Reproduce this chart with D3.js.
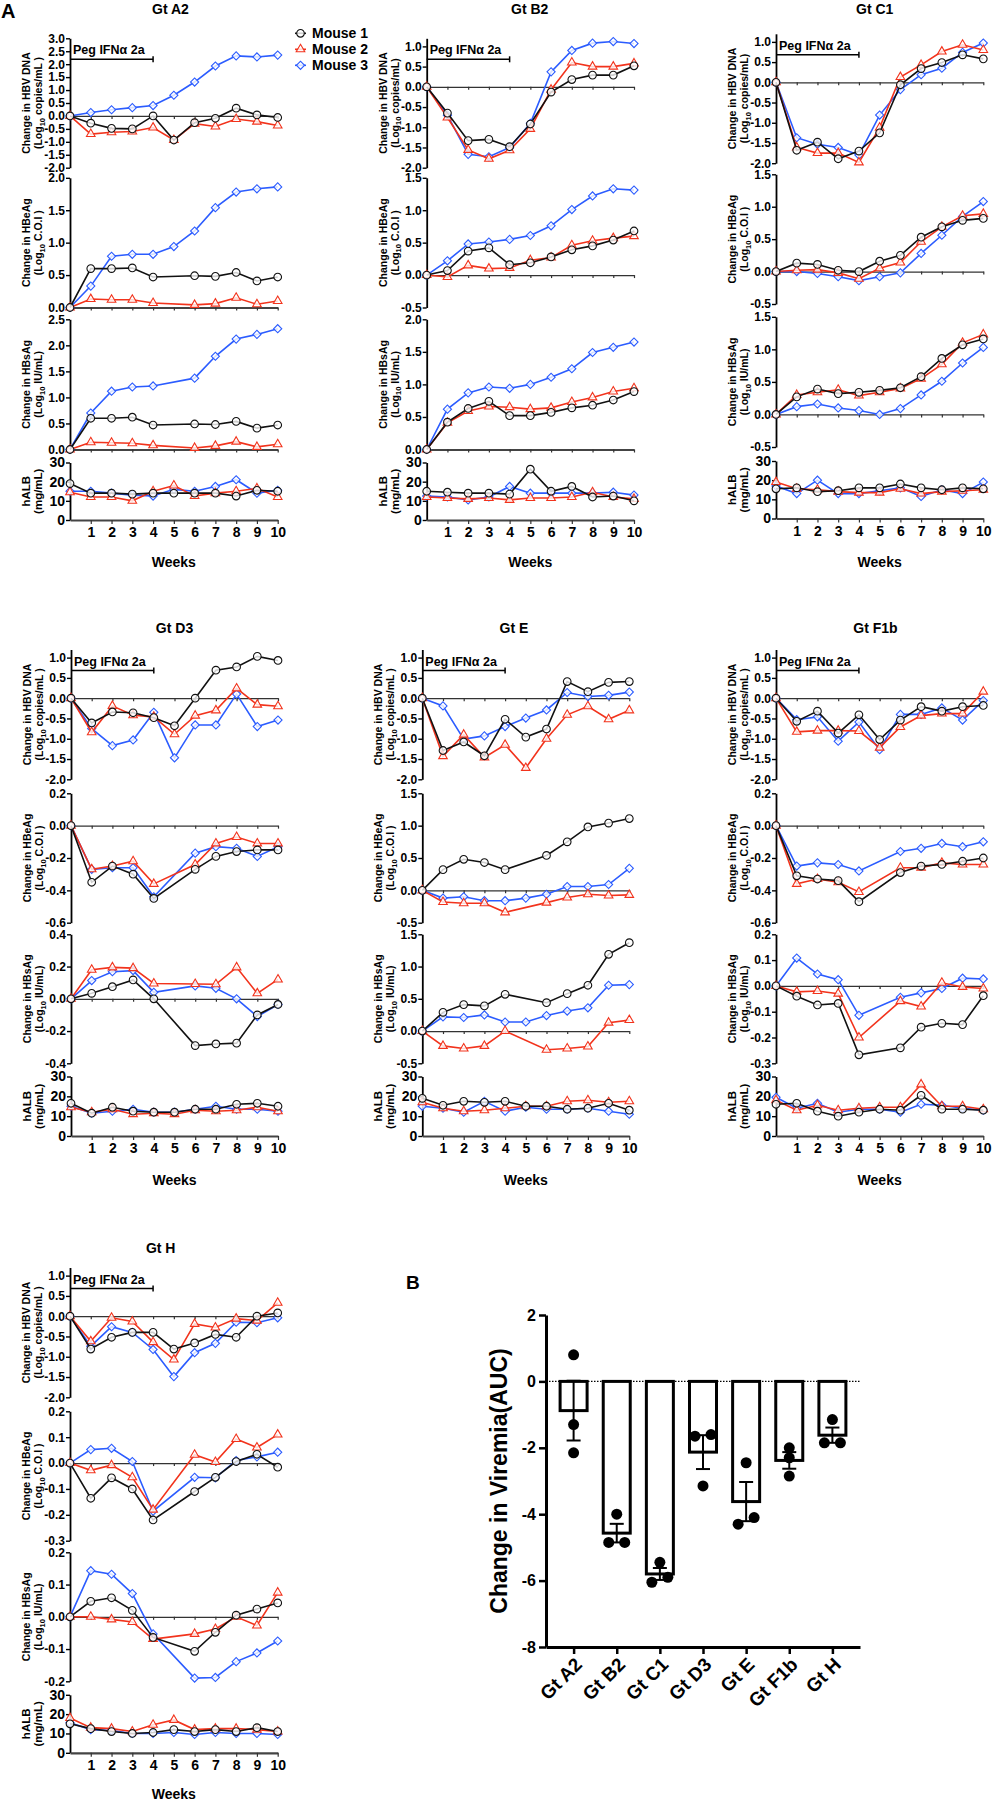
<!DOCTYPE html>
<html><head><meta charset="utf-8">
<script src="https://cdn.jsdelivr.net/npm/d3@7"></script>
<style>
body{margin:0;background:#fff;}
svg text{font-family:"Liberation Sans",Arial,Helvetica,sans-serif;font-weight:bold;fill:#000;}
</style></head><body>
<svg id="c" width="993" height="1800"></svg>
<script>
// ---------------- DATA ----------------
const weeks = [0,1,2,3,4,5,6,7,8,9,10];
const mice = ["Mouse 1","Mouse 2","Mouse 3"];
const weekLabels = [1,2,3,4,5,6,7,8,9,10];

// each array: [Mouse 1, Mouse 2, Mouse 3]; null = not measured
const A2_DNA = [[0,-0.28,-0.48,-0.5,0.0,-0.93,-0.26,-0.09,0.3,0.04,-0.06],
                [0,-0.7,-0.63,-0.6,-0.45,-0.93,-0.3,-0.41,-0.12,-0.22,-0.37],
                [0,0.13,0.24,0.32,0.4,0.8,1.31,1.93,2.32,2.28,2.35]];
const A2_HBE = [[0,0.6,0.6,0.61,0.47,null,0.49,0.48,0.54,0.41,0.47],
                [0,0.13,0.12,0.12,0.07,null,0.04,0.06,0.15,0.05,0.1],
                [0,0.33,0.79,0.82,0.82,0.94,1.18,1.54,1.78,1.83,1.86]];
const A2_HBS = [[0,0.6,0.6,0.62,0.47,null,0.49,0.48,0.54,0.41,0.47],
                [0,0.14,0.13,0.12,0.08,null,0.03,0.07,0.15,0.05,0.1],
                [0,0.7,1.12,1.2,1.22,null,1.37,1.79,2.12,2.21,2.32]];
const A2_ALB = [[19,14,14,13.5,14,14,14,14,12.5,15.5,15],
                [14.5,12,12,10,15,18,12.5,14,15,16.5,12],
                [15,15,14,13,12.5,16,15,17.5,21,14,15.5]];

const B2_DNA = [[0,-0.65,-1.33,-1.3,-1.48,-0.92,-0.13,0.18,0.29,0.29,0.52],
                [0,-0.76,-1.56,-1.78,-1.57,-1.04,-0.07,0.6,0.5,0.5,0.58],
                [0,-0.7,-1.67,-1.73,-1.5,-0.9,0.37,0.9,1.08,1.12,1.07]];
const B2_HBE = [[0,0.07,0.37,0.42,0.16,0.19,0.28,0.39,0.45,0.54,0.68],
                [0,-0.03,0.15,0.1,0.11,0.23,0.27,0.46,0.53,0.57,0.6],
                [0,0.22,0.48,0.51,0.55,0.61,0.76,1.01,1.22,1.33,1.31]];
const B2_HBS = [[0,0.42,0.63,0.74,0.52,0.52,0.57,0.64,0.68,0.76,0.89],
                [0,0.41,0.59,0.66,0.65,0.62,0.64,0.73,0.8,0.89,0.94],
                [0,0.62,0.87,0.96,0.94,1.0,1.11,1.24,1.49,1.57,1.65]];
const B2_ALB = [[15,14.5,14,14,13.5,26.5,15,17.5,12,12.5,10],
                [12,11.5,11,11.5,10.5,11.5,11.5,12,14.5,12,11],
                [12.5,12,10.5,12,17.5,14,14,14,14,14.5,13]];

const C1_DNA = [[0,-1.68,-1.48,-1.89,-1.7,-1.25,-0.06,0.34,0.49,0.68,0.58],
                [0,-1.61,-1.75,-1.75,-1.98,-1.12,0.13,0.43,0.76,0.93,0.8],
                [0,-1.37,-1.53,-1.61,-1.8,-0.81,-0.18,0.19,0.35,0.74,0.97]];
const C1_HBE = [[0,0.13,0.11,0.02,0.0,0.16,0.25,0.53,0.69,0.79,0.82],
                [0,0.02,0.03,-0.02,-0.11,0.05,0.14,0.46,0.69,0.86,0.89],
                [0,0,-0.03,-0.08,-0.14,-0.08,-0.02,0.28,0.56,0.85,1.08]];
const C1_HBS = [[0,0.27,0.39,0.32,0.34,0.37,0.41,0.58,0.86,1.07,1.16],
                [0,0.3,0.34,0.38,0.29,0.34,0.4,0.55,0.77,1.1,1.23],
                [0,0.12,0.16,0.1,0.06,0.0,0.09,0.3,0.51,0.79,1.03]];
const C1_ALB = [[15.5,16,14,14.5,16,16,18,16,15,16,15.5],
                [19,15.5,15,14,13.5,13.5,15.5,13,14,14.5,15],
                [17,13,20,13,13,14.5,16,11.5,15,13,19]];

const D3_DNA = [[0,-0.61,-0.34,-0.36,-0.48,-0.68,0.0,0.69,0.77,1.03,0.93],
                [0,-0.84,-0.19,-0.42,-0.46,-0.89,-0.43,-0.3,0.24,-0.16,-0.2],
                [0,-0.75,-1.17,-1.03,-0.35,-1.47,-0.66,-0.66,0.1,-0.7,-0.54]];
const D3_HBE = [[0,-0.35,-0.25,-0.3,-0.45,null,-0.27,-0.19,-0.16,-0.15,-0.15],
                [0,-0.27,-0.25,-0.22,-0.36,null,-0.24,-0.11,-0.07,-0.11,-0.11],
                [0,-0.27,-0.26,-0.26,-0.44,null,-0.17,-0.13,-0.14,-0.19,-0.13]];
const D3_HBS = [[0,0.034,0.075,0.117,0.0,null,-0.29,-0.28,-0.275,-0.1,-0.035],
                [0,0.18,0.195,0.19,0.095,null,0.092,0.09,0.195,0.034,0.12],
                [0,0.113,0.168,0.175,0.04,null,0.08,0.065,0.0,-0.11,-0.035]];
const D3_ALB = [[16.5,11.5,14.5,12.5,12,12,13.5,13.5,16,16.5,15],
                [14.5,12,13.5,11,11.5,11,13,12.5,13,14.5,12.5],
                [15,11.5,12.5,13.5,12,12,13.5,15,13.5,13.5,12.5]];

const E_DNA = [[0,-1.29,-1.08,-1.42,-0.52,-0.96,-0.76,0.41,0.16,0.39,0.41],
               [0,-1.43,-0.9,-1.46,-1.15,-1.72,-1.0,-0.41,-0.2,-0.52,-0.3],
               [0,-0.19,-1.01,-0.93,-0.7,-0.49,-0.29,0.14,0.04,0.07,0.15]];
const E_HBE = [[0,0.32,0.48,0.43,0.32,null,0.54,0.75,0.98,1.04,1.11],
               [0,-0.18,-0.2,-0.2,-0.34,null,-0.19,-0.11,-0.06,-0.08,-0.07],
               [0,-0.12,-0.1,-0.16,-0.16,-0.12,-0.06,0.06,0.06,0.09,0.34]];
const E_HBS = [[0,0.29,0.41,0.39,0.57,null,0.44,0.58,0.71,1.19,1.37],
               [0,-0.23,-0.27,-0.23,0.0,null,-0.29,-0.27,-0.24,0.13,0.17],
               [0,0.22,0.21,0.25,0.14,0.14,0.24,0.31,0.36,0.71,0.72]];
const E_ALB = [[19,15.5,17.5,17,17.5,15,15,13.5,14,16.5,13],
               [17,14,12.5,13,14,15,15,17.5,18,17,17.5],
               [15,14,12,17.5,12.5,14.5,13.5,13.5,14,12.5,11]];

const F1b_DNA = [[0,-0.57,-0.32,-0.86,-0.41,-1.02,-0.54,-0.21,-0.32,-0.21,-0.18],
                 [0,-0.83,-0.8,-0.8,-0.81,-1.22,-0.71,-0.43,-0.38,-0.38,0.16],
                 [0,-0.53,-0.46,-1.06,-0.59,-1.27,-0.4,-0.4,-0.24,-0.54,-0.06]];
const F1b_HBE = [[0,-0.31,-0.33,-0.34,-0.47,null,-0.29,-0.25,-0.24,-0.22,-0.2],
                 [0,-0.36,-0.33,-0.35,-0.41,null,-0.26,-0.26,-0.23,-0.24,-0.24],
                 [0,-0.25,-0.23,-0.24,-0.28,null,-0.16,-0.14,-0.11,-0.13,-0.1]];
const F1b_HBS = [[0,-0.04,-0.074,-0.068,-0.267,null,-0.24,-0.16,-0.145,-0.15,-0.038],
                 [0,-0.023,-0.02,-0.03,-0.2,null,-0.059,-0.08,0.012,-0.004,-0.01],
                 [0,0.108,0.046,0.024,-0.114,null,-0.044,-0.027,-0.01,0.03,0.027]];
const F1b_ALB = [[16,16.5,12.5,10,12,13.5,13,20.5,13.5,13.5,13],
                 [18,13,15.5,13,14,14.5,14.5,26,15,15,13.5],
                 [19.5,14,16.5,12,13.5,13.5,12,16,15.5,14,13]];

const H_DNA = [[0,-0.81,-0.52,-0.4,-0.4,-0.81,-0.66,-0.45,-0.52,0.0,0.08],
               [0,-0.62,-0.04,-0.13,-0.64,-1.07,-0.19,-0.28,-0.06,-0.11,0.33],
               [0,-0.74,-0.26,-0.4,-0.82,-1.49,-0.9,-0.67,-0.15,-0.16,-0.04]];
const H_HBE = [[0,-0.136,-0.057,-0.1,-0.22,null,-0.11,-0.055,0.006,0.034,-0.016],
               [0,-0.028,-0.008,-0.055,-0.18,null,0.032,0.004,0.093,0.06,0.11],
               [0,0.052,0.057,0.006,-0.186,null,-0.055,-0.057,0.01,0.024,0.042]];
const H_HBS = [[0,0.048,0.059,0.02,-0.064,null,-0.107,-0.048,0.005,0.024,0.043],
               [0,0.0,-0.008,-0.016,-0.069,null,-0.053,-0.038,0.0,-0.027,0.075],
               [0,0.143,0.132,0.072,-0.053,null,-0.19,-0.188,-0.139,-0.112,-0.075]];
const H_ALB = [[15,12.5,11,10,10.5,12,11,12,11,13,11],
               [18,13,12.5,11,14.5,17,12,12.5,12.5,12,11],
               [15.5,12,11.5,10,10,10.5,9.5,10.5,10,10,9.5]];

// Panel B
const aucGenotypes = ["Gt A2","Gt B2","Gt C1","Gt D3","Gt E","Gt F1b","Gt H"];
const aucMean = [-0.88,-4.57,-5.8,-2.13,-3.62,-2.38,-1.62];
const aucSEM  = [0.9,0.28,0.18,0.51,0.59,0.25,0.23];
const aucPoints = [[0.8,-1.3,-2.15],[-4.0,-4.85,-4.85],[-5.45,-6.05,-5.9],[-1.6,-1.65,-3.15],
                   [-2.45,-4.3,-4.1],[-2.0,-2.3,-2.85],[-1.15,-1.85,-1.85]];

// ---------------- DRAWING ----------------
const svg = d3.select("#c");
const colors = ["#111111","#f2331c","#2b5cff"];
const loc = d3.formatLocale({decimal:".",thousands:",",grouping:[3],currency:["$",""],minus:"-"});
const f1 = loc.format(".1f"), f0 = loc.format("d");

const row1 = {dna:[167.7,38.3], hbe:[307.5,177.8], hbs:[449.5,319.3], alb:[520,462.5], titleY:13, tickY:537.5, weeksY:566.5};
const row2 = {dna:[779.3,649.5], hbe:[922.7,793.3], hbs:[1063.3,934.3], alb:[1136,1076.5], titleY:632.7, tickY:1155.5, weeksY:1185};
const row3 = {dna:[1397.3,1267.5], hbe:[1540.7,1411.3], hbs:[1681.3,1552.3], alb:[1752.8,1694.8], titleY:1252.6, tickY:1770, weeksY:1798.5};

const dnaTicksStd = [-2,-1.5,-1,-0.5,0,0.5,1];
const panels = [
 {title:"Gt A2", tx:170.5, row:row1, x0:70, x1:277.7, dys:[0,0,0,0],
  dna:{data:A2_DNA, domain:[-2,3], ticks:[-2,-1.5,-1,-0.5,0,0.5,1,1.5,2,2.5,3]},
  hbe:{data:A2_HBE, domain:[0,2], ticks:[0,0.5,1,1.5,2]},
  hbs:{data:A2_HBS, domain:[0,2.5], ticks:[0,0.5,1,1.5,2,2.5]},
  alb:A2_ALB, dnaUnit:"(Log10 copies/mL )"},
 {title:"Gt B2", tx:529.7, row:row1, x0:426.7, x1:634, dys:[0,0,0,0],
  dna:{data:B2_DNA, domain:[-2,1.2], ticks:dnaTicksStd},
  hbe:{data:B2_HBE, domain:[-0.5,1.5], ticks:[-0.5,0,0.5,1,1.5]},
  hbs:{data:B2_HBS, domain:[0,2], ticks:[0,0.5,1,1.5,2]},
  alb:B2_ALB, dnaUnit:"(Log10 copies/mL)"},
 {title:"Gt C1", tx:874.7, row:row1, x0:776, x1:983.3, dys:[-4.5,-3.5,-2.5,-1.5],
  dna:{data:C1_DNA, domain:[-2,1.2], ticks:dnaTicksStd},
  hbe:{data:C1_HBE, domain:[-0.5,1.5], ticks:[-0.5,0,0.5,1,1.5]},
  hbs:{data:C1_HBS, domain:[-0.5,1.5], ticks:[-0.5,0,0.5,1,1.5]},
  alb:C1_ALB, dnaUnit:"(Log10 copies/mL)"},
 {title:"Gt D3", tx:174.5, row:row2, x0:71, x1:278, dys:[0,0,0,0],
  dna:{data:D3_DNA, domain:[-2,1.2], ticks:dnaTicksStd},
  hbe:{data:D3_HBE, domain:[-0.6,0.2], ticks:[-0.6,-0.4,-0.2,0,0.2]},
  hbs:{data:D3_HBS, domain:[-0.4,0.4], ticks:[-0.4,-0.2,0,0.2,0.4]},
  alb:D3_ALB, dnaUnit:"(Log10 copies/mL )"},
 {title:"Gt E", tx:514, row:row2, x0:422.3, x1:629.3, dys:[0,0,0,0],
  dna:{data:E_DNA, domain:[-2,1.2], ticks:dnaTicksStd},
  hbe:{data:E_HBE, domain:[-0.5,1.5], ticks:[-0.5,0,0.5,1,1.5]},
  hbs:{data:E_HBS, domain:[-0.5,1.5], ticks:[-0.5,0,0.5,1,1.5]},
  alb:E_ALB, dnaUnit:"(Log10 copies/mL )"},
 {title:"Gt F1b", tx:875.5, row:row2, x0:776, x1:983.3, dys:[0,0,0,0],
  dna:{data:F1b_DNA, domain:[-2,1.2], ticks:dnaTicksStd},
  hbe:{data:F1b_HBE, domain:[-0.6,0.2], ticks:[-0.6,-0.4,-0.2,0,0.2]},
  hbs:{data:F1b_HBS, domain:[-0.3,0.2], ticks:[-0.3,-0.2,-0.1,0,0.1,0.2]},
  alb:F1b_ALB, dnaUnit:"(Log10 copies/mL )"},
 {title:"Gt H", tx:160.7, row:row3, x0:70, x1:277.7, dys:[0,0,0,0],
  dna:{data:H_DNA, domain:[-2,1.2], ticks:dnaTicksStd},
  hbe:{data:H_HBE, domain:[-0.3,0.2], ticks:[-0.3,-0.2,-0.1,0,0.1,0.2]},
  hbs:{data:H_HBS, domain:[-0.2,0.2], ticks:[-0.2,-0.1,0,0.1,0.2]},
  alb:H_ALB, dnaUnit:"(Log10 copies/mL )"}
];

function drawMarker(g, i, cx, cy) {
  let el;
  if (i === 0) el = g.append("path").attr("d", d3.symbol(d3.symbolCircle, 46)());
  else if (i === 1) el = g.append("path").attr("d", d3.symbol(d3.symbolTriangle, 32)());
  else el = g.append("path").attr("d", d3.symbol(d3.symbolSquare, 33)());
  el.attr("transform", `translate(${cx},${cy})` + (i === 2 ? " rotate(45)" : ""))
    .attr("fill", "#fff").attr("fill-opacity", 0.8)
    .attr("stroke", colors[i]).attr("stroke-width", 1.1);
}

function yLabel(g, x0, yMid, lines, fs) {
  g.append("text").attr("transform", `translate(${x0-40},${yMid}) rotate(-90)`)
    .attr("text-anchor", "middle").style("font-size", fs + "px").text(lines[0]);
  const t2 = g.append("text").attr("transform", `translate(${x0-28},${yMid}) rotate(-90)`)
    .attr("text-anchor", "middle").style("font-size", fs + "px");
  const m = lines[1].match(/^(.*Log)10(.*)$/);
  if (m) {
    t2.append("tspan").text(m[1]);
    t2.append("tspan").attr("dy", 2.5).style("font-size", (fs * 0.72) + "px").text("10");
    t2.append("tspan").attr("dy", -2.5).text(m[2]);
  } else t2.text(lines[1]);
}

function styleTicks(sel, fs) {
  sel.style("font-size", fs + "px").style("font-family", '"Liberation Sans",Arial,sans-serif')
     .style("font-weight", "bold").attr("fill", "#000");
}

function drawSub(g, p, x, cfg, range, labels, isAlb) {
  const y = d3.scaleLinear().domain(cfg.domain).range(range);
  const ya = g.append("g").attr("transform", `translate(${p.x0},0)`)
    .call(d3.axisLeft(y).tickValues(cfg.ticks).tickSize(4).tickSizeOuter(0).tickPadding(1)
      .tickFormat(isAlb ? f0 : f1));
  ya.select(".domain").attr("stroke", "#000").attr("stroke-width", 1.8);
  ya.selectAll(".tick line").attr("stroke", "#000").attr("stroke-width", 1.4);
  styleTicks(ya.selectAll(".tick text"), isAlb ? 14 : 12);
  const isBottom = cfg.domain[0] === 0;
  const xa = g.append("g").attr("transform", `translate(0,${y(0)})`)
    .call(d3.axisBottom(x).tickValues(isAlb ? weekLabels : weeks).tickSize(isAlb ? 4 : 3).tickSizeOuter(0)
      .tickPadding(3.5).tickFormat(isAlb ? f0 : () => ""));
  xa.select(".domain").attr("stroke", isBottom ? "#444" : "#333").attr("stroke-width", isBottom ? 2.2 : 1.2);
  xa.selectAll(".tick line").attr("stroke", "#333").attr("stroke-width", 1.2);
  if (isAlb) styleTicks(xa.selectAll(".tick text"), 14);
  yLabel(g, p.x0, (range[0] + range[1]) / 2, labels, isAlb ? 11.5 : 10.5);
  [2, 1, 0].forEach(i => {
    const pts = weeks.map((w, k) => [w, cfg.data[i][k]]).filter(d => d[1] !== null);
    g.append("path").attr("d", d3.line().x(d => x(d[0])).y(d => y(d[1]))(pts))
      .attr("fill", "none").attr("stroke", colors[i]).attr("stroke-width", 1.6);
    pts.forEach(d => drawMarker(g, i, x(d[0]), y(d[1])));
  });
  return y;
}

panels.forEach(p => {
  const g = svg.append("g");
  const x = d3.scaleLinear().domain([0, 10]).range([p.x0, p.x1]);
  const r = p.row;
  g.append("text").attr("x", p.tx).attr("y", r.titleY + (p.row === row1 ? 0.5 : 0)).attr("text-anchor", "middle")
    .style("font-size", "14px").text(p.title);
  const rd = r.dna.map(v => v + p.dys[0]);
  drawSub(g, p, x, p.dna, rd, ["Change in HBV DNA", p.dnaUnit], false);
  drawSub(g, p, x, p.hbe, r.hbe.map(v => v + p.dys[1]), ["Change in HBeAg", "(Log10 C.O.I )"], false);
  drawSub(g, p, x, p.hbs, r.hbs.map(v => v + p.dys[2]), ["Change in HBsAg", "(Log10 IU/mL)"], false);
  drawSub(g, p, x, {data: p.alb, domain: [0, 30], ticks: [0, 10, 20, 30]}, r.alb.map(v => v + p.dys[3]), ["hALB", "(mg/mL)"], true);
  const top = rd[1];
  g.append("text").attr("x", x(0) + 3).attr("y", top + 16).style("font-size", "12.5px").text("Peg IFNα 2a");
  g.append("line").attr("x1", x(0)).attr("x2", x(4)).attr("y1", top + 21).attr("y2", top + 21)
    .attr("stroke", "#000").attr("stroke-width", 1.5);
  g.append("line").attr("x1", x(4)).attr("x2", x(4)).attr("y1", top + 18).attr("y2", top + 24)
    .attr("stroke", "#000").attr("stroke-width", 1.5);
  g.append("text").attr("x", (p.x0 + p.x1) / 2).attr("y", r.weeksY).attr("text-anchor", "middle")
    .style("font-size", "14px").text("Weeks");
});

// legend
const lg = svg.append("g");
mice.forEach((m, i) => {
  const yy = 33.3 + i * 16;
  lg.append("line").attr("x1", 295).attr("x2", 306).attr("y1", yy).attr("y2", yy)
    .attr("stroke", colors[i]).attr("stroke-width", 1.6);
  drawMarker(lg, i, 300.5, yy);
  lg.append("text").attr("x", 312).attr("y", yy + 5).style("font-size", "14px").text(m);
});

// panel letters
svg.append("text").attr("x", 1).attr("y", 18).style("font-size", "20px").text("A");
svg.append("text").attr("x", 406).attr("y", 1289).style("font-size", "19px").text("B");

// ---------------- Panel B ----------------
const gb = svg.append("g");
const bx = d3.scalePoint().domain(aucGenotypes).range([546, 860]).padding(0.64);
const by = d3.scaleLinear().domain([-8, 2]).range([1647, 1315]);
const bw = 27;
gb.append("line").attr("x1", 546).attr("x2", 860).attr("y1", by(0)).attr("y2", by(0))
  .attr("stroke", "#000").attr("stroke-width", 1.2).attr("stroke-dasharray", "1.5,1.5");
gb.selectAll("rect.bar").data(aucGenotypes).enter().append("rect")
  .attr("x", d => bx(d) - bw / 2).attr("width", bw)
  .attr("y", (d, i) => Math.min(by(0), by(aucMean[i])))
  .attr("height", (d, i) => Math.abs(by(aucMean[i]) - by(0)))
  .attr("fill", "#fff").attr("stroke", "#000").attr("stroke-width", 3);
aucGenotypes.forEach((d, i) => {
  const cx = bx(d), lo = by(aucMean[i] - aucSEM[i]), hi = by(aucMean[i] + aucSEM[i]);
  gb.append("line").attr("x1", cx).attr("x2", cx).attr("y1", hi).attr("y2", lo).attr("stroke", "#000").attr("stroke-width", 2);
  [lo, hi].forEach(yy => gb.append("line").attr("x1", cx - 7).attr("x2", cx + 7).attr("y1", yy).attr("y2", yy)
    .attr("stroke", "#000").attr("stroke-width", 2));
});
aucGenotypes.forEach((d, i) => {
  const vals = aucPoints[i].slice().sort((a, b) => a - b);
  vals.forEach((v, k) => {
    let off = 0;
    const prev = vals[k - 1], next = vals[k + 1];
    if (next !== undefined && Math.abs(next - v) < 0.25) off = -8;
    else if (prev !== undefined && Math.abs(prev - v) < 0.25) off = 8;
    gb.append("circle").attr("cx", bx(d) + off).attr("cy", by(v)).attr("r", 5.5).attr("fill", "#000");
  });
});
const bya = gb.append("g").attr("transform", "translate(546,0)")
  .call(d3.axisLeft(by).tickValues([-8, -6, -4, -2, 0, 2]).tickSize(7).tickSizeOuter(0).tickPadding(3).tickFormat(f0));
bya.select(".domain").attr("stroke", "#000").attr("stroke-width", 3);
bya.selectAll(".tick line").attr("stroke", "#000").attr("stroke-width", 2.5);
styleTicks(bya.selectAll(".tick text"), 16);
const bxa = gb.append("g").attr("transform", `translate(0,${by(-8)})`)
  .call(d3.axisBottom(bx).tickSize(7).tickSizeOuter(0).tickFormat(""));
bxa.select(".domain").attr("stroke", "#000").attr("stroke-width", 3);
bxa.selectAll(".tick line").attr("stroke", "#000").attr("stroke-width", 2.5);
aucGenotypes.forEach(d => {
  gb.append("text").attr("transform", `translate(${bx(d) + 5},${by(-8) + 14}) rotate(-45)`)
    .attr("text-anchor", "end").attr("dy", "0.35em").style("font-size", "19px").text(d);
});
gb.append("text").attr("transform", `translate(507,${(by(2) + by(-8)) / 2}) rotate(-90)`)
  .attr("text-anchor", "middle").style("font-size", "23px").text("Change in Viremia(AUC)");
</script>
</body></html>
